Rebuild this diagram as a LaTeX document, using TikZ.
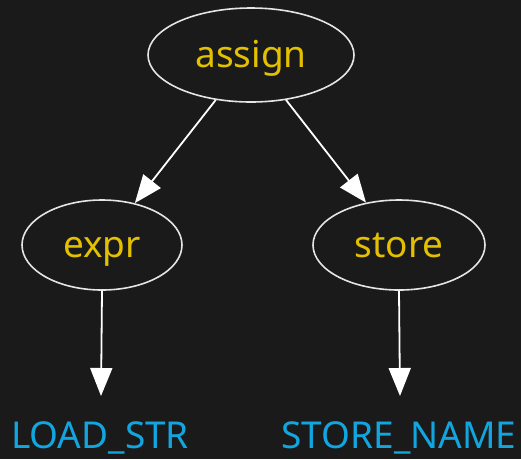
\documentclass[tikz,border=0pt]{standalone}
\usepackage{fontspec}
\setmainfont{Noto Sans}
\usetikzlibrary{shapes.geometric,arrows.meta}
\definecolor{bg}{HTML}{1A1A1A}
\definecolor{gold}{HTML}{E3C000}
\definecolor{lblue}{HTML}{12A6E0}
\begin{document}
\begin{tikzpicture}[x=1pt,y=-1pt,
  nd/.style={ellipse,draw=white!90!black,line width=1.6pt,inner sep=0pt,text=gold,text height=24pt,text depth=0pt,font=\fontsize{37}{44}\selectfont},
  lbl/.style={text=lblue,font=\fontsize{37}{44}\selectfont,inner sep=0pt,anchor=base},
  arr/.style={draw=white,line width=1.8pt,-{Triangle[length=28pt,width=22pt]}}]
\fill[bg] (0,0) rectangle (521,459);
\useasboundingbox (0,0) rectangle (521,459);
\node[nd,minimum width=206pt,minimum height=94pt] (assign) at (251,55) {assign};
\node[nd,minimum width=160pt,minimum height=90pt] (expr) at (102,245) {expr};
\node[nd,minimum width=172pt,minimum height=90pt] (store) at (399,245) {store};
\node[lbl] (load) at (100,448) {LOAD\_STR};
\node[lbl] (sname) at (399,448) {STORE\_NAME};
\coordinate (t1) at (101,396);
\coordinate (t2) at (400,396);
\draw[arr] (assign) -- (expr);
\draw[arr] (assign) -- (store);
\draw[arr] (expr.south) -- (t1);
\draw[arr] (store.south) -- (t2);
\end{tikzpicture}
\end{document}
